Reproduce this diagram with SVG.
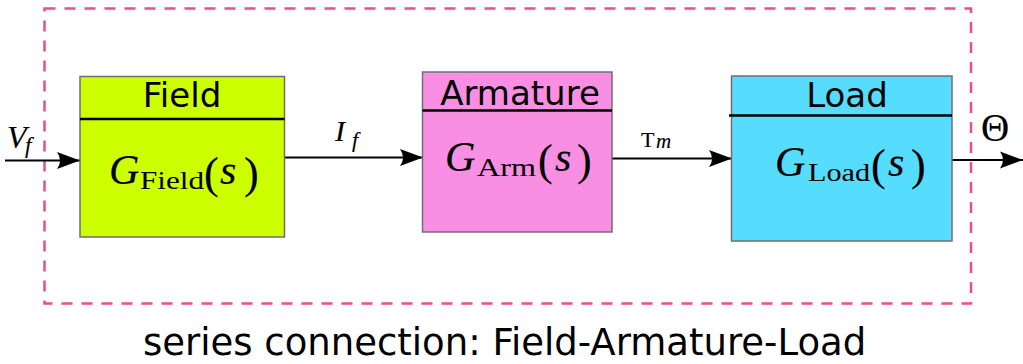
<svg xmlns="http://www.w3.org/2000/svg" width="1023" height="364" viewBox="0 0 1023 364">
<defs>
<style>
.box{stroke:#6f6f6f;stroke-width:1.5}
.div{stroke:#000;stroke-width:2.5}
.hdr{font-family:"DejaVu Sans",sans-serif;font-size:34px;fill:#000;text-anchor:middle}
.m{font-family:"Liberation Serif",serif;fill:#000;stroke:#000;stroke-width:0.15}
.it{font-style:italic}
.sub{font-family:"Liberation Serif",serif;fill:#000;font-size:25px}
.conn{stroke:#000;stroke-width:2;fill:none}
</style>
<marker id="ah" markerUnits="userSpaceOnUse" markerWidth="26" markerHeight="20" viewBox="-23 -10 26 20" refX="0" refY="0" orient="auto">
<path d="M0,0 L-23,-8.5 Q-17,0 -23,8.5 Z" fill="#000"/>
</marker>
</defs>
<rect x="0" y="0" width="1023" height="364" fill="#fff"/>
<rect x="44.5" y="8.5" width="926.5" height="295" fill="none" stroke="#ee4d86" stroke-width="2.5" stroke-dasharray="11 9"/>

<g id="connectors">
<line class="conn" x1="5" y1="160.5" x2="80" y2="160.5" marker-end="url(#ah)"/>
<line class="conn" x1="285" y1="157.5" x2="423" y2="157.5" marker-end="url(#ah)"/>
<line class="conn" x1="612" y1="158.5" x2="732" y2="158.5" marker-end="url(#ah)"/>
<line class="conn" x1="952" y1="160" x2="1023" y2="160" marker-end="url(#ah)"/>
<text class="m it" x="7" y="148" font-size="32">V</text>
<text class="m it" x="25" y="153" font-size="23">f</text>
<text class="m it" x="335" y="141" font-size="30">I</text>
<text class="m it" x="352" y="147" font-size="22">f</text>
<text class="m" x="641" y="147" font-size="22">T</text>
<text class="m it" x="656" y="148" font-size="21">m</text>
<text class="m" x="981" y="141" font-size="39">Θ</text>
</g>

<g id="field">
<rect class="box" x="80" y="76.5" width="204.5" height="160.5" fill="#ccff00"/>
<line class="div" x1="80" y1="119" x2="284.5" y2="119"/>
<text class="hdr" x="182" y="107">Field</text>
<text class="m it" x="109" y="184" font-size="42">G</text>
<text class="sub" x="140" y="189" textLength="64" lengthAdjust="spacingAndGlyphs">Field</text>
<text class="m" x="204" y="188" font-size="44">(</text>
<text class="m it" x="220" y="184" font-size="42">s</text>
<text class="m" x="244" y="188" font-size="44">)</text>
</g>

<g id="armature">
<rect class="box" x="422.5" y="72" width="189.5" height="160" fill="#f88fe2"/>
<line class="div" x1="422.5" y1="110.5" x2="612" y2="110.5"/>
<text class="hdr" x="520" y="105">Armature</text>
<text class="m it" x="445" y="171" font-size="42">G</text>
<text class="sub" x="477" y="176" textLength="59" lengthAdjust="spacingAndGlyphs">Arm</text>
<text class="m" x="538" y="175" font-size="44">(</text>
<text class="m it" x="555" y="171" font-size="42">s</text>
<text class="m" x="577" y="175" font-size="44">)</text>
</g>

<g id="load">
<rect class="box" x="731.5" y="76" width="220.5" height="165" fill="#55dcff"/>
<line class="div" x1="729" y1="115.5" x2="952" y2="115.5"/>
<text class="hdr" x="847" y="107">Load</text>
<text class="m it" x="775" y="176" font-size="42">G</text>
<text class="sub" x="808" y="181" textLength="62" lengthAdjust="spacingAndGlyphs">Load</text>
<text class="m" x="871" y="180" font-size="44">(</text>
<text class="m it" x="888" y="176" font-size="42">s</text>
<text class="m" x="911" y="180" font-size="44">)</text>
</g>

<text x="143" y="355" font-family="DejaVu Sans, sans-serif" font-size="37" fill="#000">series connection: Field-Armature-Load</text>
</svg>
